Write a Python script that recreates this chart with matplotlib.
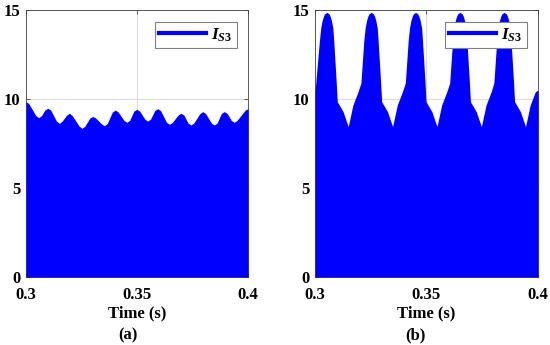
import numpy as np
import matplotlib
matplotlib.use('Agg')
import matplotlib.pyplot as plt

# envelope of the switch current I_S3
# (a)
t_a = [0.3000, 0.3012,
       0.3044, 0.3057, 0.3070, 0.3085, 0.3098, 0.3111,
       0.3137, 0.3150, 0.3163, 0.3182, 0.3195, 0.3208,
       0.3239, 0.3252, 0.3265, 0.3287, 0.3300, 0.3313,
       0.3340, 0.3353, 0.3366, 0.3389, 0.3402, 0.3415,
       0.3441, 0.3454, 0.3467, 0.3486, 0.3499, 0.3512,
       0.3535, 0.3548, 0.3561, 0.3580, 0.3593, 0.3606,
       0.3633, 0.3646, 0.3659, 0.3685, 0.3698, 0.3711,
       0.3730, 0.3743, 0.3756, 0.3783, 0.3796, 0.3809,
       0.3835, 0.3848, 0.3861, 0.3880, 0.3893, 0.3906,
       0.3925, 0.3938, 0.3951, 0.3988, 0.4000]
i_a = [9.85, 9.75,
       9.07, 8.95, 9.07, 9.38, 9.48, 9.38,
       8.76, 8.63, 8.76, 9.08, 9.20, 9.07,
       8.48, 8.35, 8.47, 8.92, 9.02, 8.94,
       8.60, 8.50, 8.62, 9.27, 9.38, 9.27,
       8.80, 8.69, 8.80, 9.32, 9.42, 9.32,
       8.87, 8.76, 8.87, 9.35, 9.46, 9.35,
       8.69, 8.58, 8.68, 9.10, 9.20, 9.10,
       8.65, 8.54, 8.65, 9.18, 9.29, 9.18,
       8.65, 8.54, 8.65, 9.19, 9.29, 9.19,
       8.79, 8.69, 8.80, 9.38, 9.46]

# (b)
t_b = [0.3000, 0.3020, 0.3026, 0.3032, 0.3038, 0.3043, 0.3053, 0.3063, 0.3068, 0.3074, 0.3080, 0.3084, 0.3095, 0.3100, 0.3126, 0.3149, 0.3170, 0.3193,
       0.3206, 0.3219, 0.3225, 0.3231, 0.3237, 0.3242, 0.3252, 0.3262, 0.3267, 0.3273, 0.3279, 0.3283, 0.3294, 0.3299, 0.3325, 0.3348, 0.3369, 0.3392,
       0.3405, 0.3418, 0.3424, 0.3430, 0.3436, 0.3441, 0.3451, 0.3461, 0.3466, 0.3472, 0.3478, 0.3482, 0.3493, 0.3498, 0.3524, 0.3547, 0.3568, 0.3591,
       0.3604, 0.3617, 0.3623, 0.3629, 0.3635, 0.3640, 0.3650, 0.3660, 0.3665, 0.3671, 0.3677, 0.3681, 0.3692, 0.3697, 0.3723, 0.3746, 0.3767, 0.3790,
       0.3802, 0.3815, 0.3821, 0.3827, 0.3833, 0.3838, 0.3848, 0.3858, 0.3863, 0.3869, 0.3875, 0.3879, 0.3890, 0.3895, 0.3921, 0.3944, 0.3965, 0.3988,
       0.4000]
i_b = [10.4, 13.3, 14.0, 14.4, 14.65, 14.78, 14.87, 14.78, 14.65, 14.4, 14.0, 13.3, 11.0, 9.85, 9.29, 8.45, 9.66, 10.41,
       10.9, 13.3, 14.0, 14.4, 14.65, 14.78, 14.87, 14.78, 14.65, 14.4, 14.0, 13.3, 11.0, 9.85, 9.29, 8.45, 9.66, 10.41,
       10.9, 13.3, 14.0, 14.4, 14.65, 14.78, 14.87, 14.78, 14.65, 14.4, 14.0, 13.3, 11.0, 9.85, 9.29, 8.45, 9.66, 10.41,
       10.9, 13.3, 14.0, 14.4, 14.65, 14.78, 14.87, 14.78, 14.65, 14.4, 14.0, 13.3, 11.0, 9.85, 9.29, 8.45, 9.66, 10.41,
       10.9, 13.3, 14.0, 14.4, 14.65, 14.78, 14.87, 14.78, 14.65, 14.4, 14.0, 13.3, 11.0, 9.85, 9.29, 8.45, 9.66, 10.41,
       10.5]

x_ticks = [0.3, 0.35, 0.4]
x_labels = ['0.3', '0.35', '0.4']
y_ticks = [0, 5, 10, 15]
panel_tags = ['(a)', '(b)']

plt.rcParams['font.family'] = 'Liberation Serif'
plt.rcParams['font.weight'] = 'bold'
plt.rcParams['mathtext.fontset'] = 'custom'
plt.rcParams['mathtext.it'] = 'Liberation Serif:italic:bold'
plt.rcParams['mathtext.rm'] = 'Liberation Serif:bold'

fig = plt.figure(figsize=(5.5, 3.45), dpi=100)
ax_a = fig.add_axes([0.0473, 0.1971, 0.4036, 0.7739])
ax_b = fig.add_axes([0.5727, 0.1971, 0.4055, 0.7739])

def draw_panel(ax, t, i, tag, tag_x):
    ax.fill_between(t, 0, i, color='#0000ff', lw=0, zorder=3)
    ax.plot([], [], color='#0000ff', lw=3, label=r'$I_{\mathit{S3}}$')
    ax.set_xlim(0.3, 0.4)
    ax.set_ylim(0, 15)
    ax.set_xticks(x_ticks)
    ax.set_xticklabels(x_labels)
    ax.set_yticks(y_ticks)
    ax.grid(True, color='#dcdcdc', lw=0.8)
    ax.set_axisbelow(True)
    for s in ax.spines.values():
        s.set_color('#404040')
        s.set_linewidth(0.6)
    ax.tick_params(direction='in', length=3, width=0.6, top=True, right=True,
                   labelsize=12, pad=4, color='#404040')
    ax.tick_params(axis='x', pad=7)
    ax.set_xlabel('Time (s)', fontsize=12, fontweight='bold', labelpad=2)
    leg = ax.legend(loc='upper right', bbox_to_anchor=(0.950, 0.955), borderaxespad=0,
                    fontsize=12.5, handlelength=2.7, handletextpad=0.3, borderpad=0.25,
                    fancybox=False, framealpha=1, edgecolor='#808080')
    leg.get_frame().set_linewidth(0.8)
    leg.set_zorder(6)
    fig.text(tag_x, 0.029, tag, ha='center', va='center', fontsize=12, fontweight='bold')

draw_panel(ax_a, t_a, i_a, panel_tags[0], 0.233)
draw_panel(ax_b, t_b, i_b, panel_tags[1], 0.756)

fig.savefig('out.png', dpi=100)
